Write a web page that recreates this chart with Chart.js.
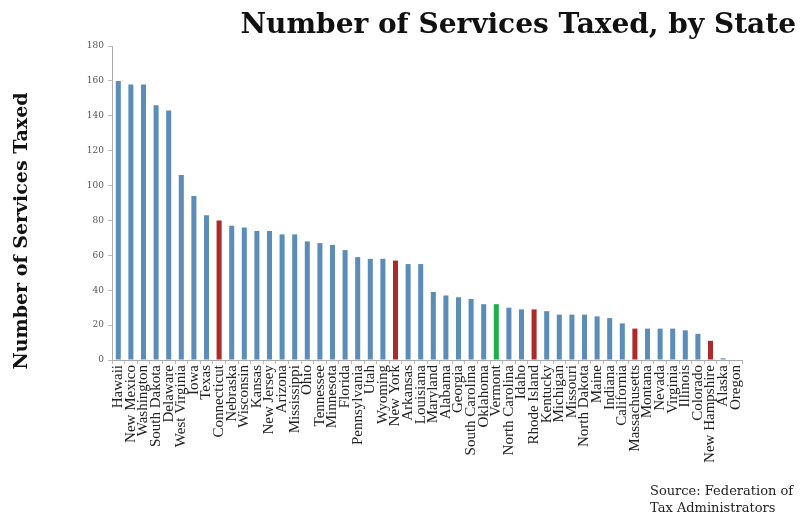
<!DOCTYPE html>
<html>
<head>
<meta charset="utf-8">
<script src="https://cdn.jsdelivr.net/npm/chart.js@4.4.3/dist/chart.umd.min.js"></script>
<style>
  html, body { margin: 0; padding: 0; background: #fff; }
  #wrap { width: 801px; height: 514px; position: relative; }
</style>
</head>
<body>
<div id="wrap"><canvas id="servicesChart"></canvas></div>
<script>
// States ordered by number of services taxed
const states = [
  'Hawaii', 'New Mexico', 'Washington', 'South Dakota', 'Delaware', 'West Virginia',
  'Iowa', 'Texas', 'Connecticut', 'Nebraska', 'Wisconsin', 'Kansas', 'New Jersey',
  'Arizona', 'Mississippi', 'Ohio', 'Tennessee', 'Minnesota', 'Florida', 'Pennsylvania',
  'Utah', 'Wyoming', 'New York', 'Arkansas', 'Louisiana', 'Maryland', 'Alabama',
  'Georgia', 'South Carolina', 'Oklahoma', 'Vermont', 'North Carolina', 'Idaho',
  'Rhode Island', 'Kentucky', 'Michigan', 'Missouri', 'North Dakota', 'Maine',
  'Indiana', 'California', 'Massachusetts', 'Montana', 'Nevada', 'Virginia',
  'Illinois', 'Colorado', 'New Hampshire', 'Alaska', 'Oregon'
];
const servicesTaxed = [
  160, 158, 158, 146, 143, 106,
  94, 83, 80, 77, 76, 74, 74,
  72, 72, 68, 67, 66, 63, 59,
  58, 58, 57, 55, 55, 39, 37,
  36, 35, 32, 32, 30, 29,
  29, 28, 26, 26, 26, 25,
  24, 21, 18, 18, 18, 18,
  17, 15, 11, 1, 0
];
// New England neighbours get red, Vermont green
const redStates = ['Connecticut', 'New York', 'Rhode Island', 'Massachusetts', 'New Hampshire'];
const greenStates = ['Vermont'];
const yTicks = [0, 20, 40, 60, 80, 100, 120, 140, 160, 180];

const BLUE = '#5b8db8';
const RED = '#ad2a2a';
const GREEN = '#1fb04c';
const barColors = states.map(s =>
  greenStates.includes(s) ? GREEN : (redStates.includes(s) ? RED : BLUE));

// titles and source note drawn straight onto the canvas
const textPlugin = {
  id: 'textPlugin',
  afterDraw(chart) {
    const ctx = chart.ctx;
    ctx.save();
    ctx.fillStyle = '#111';
    ctx.font = 'bold 28px "DejaVu Serif", serif';
    ctx.textAlign = 'right';
    ctx.textBaseline = 'alphabetic';
    ctx.fillText('Number of Services Taxed, by State', 796, 33);

    ctx.font = 'bold 19px "DejaVu Serif", serif';
    ctx.textAlign = 'center';
    ctx.textBaseline = 'middle';
    ctx.translate(22, 231);
    ctx.rotate(-Math.PI / 2);
    ctx.fillText('Number of Services Taxed', 0, 0);
    ctx.restore();

    ctx.save();
    ctx.fillStyle = '#222';
    ctx.font = '13px "DejaVu Serif", serif';
    ctx.textAlign = 'left';
    ctx.textBaseline = 'alphabetic';
    ctx.fillText('Source: Federation of', 650, 495);
    ctx.fillText('Tax Administrators', 650, 512);
    ctx.restore();
  }
};

new Chart(document.getElementById('servicesChart'), {
  type: 'bar',
  data: {
    labels: states,
    datasets: [{
      data: servicesTaxed,
      backgroundColor: barColors,
      borderWidth: 0,
      barPercentage: 0.4,
      categoryPercentage: 1.0
    }]
  },
  options: {
    responsive: true,
    maintainAspectRatio: false,
    animation: false,
    layout: { padding: { top: 46, right: 59, left: 0, bottom: 0 } },
    plugins: {
      legend: { display: false },
      tooltip: { enabled: false }
    },
    scales: {
      x: {
        grid: { display: true, drawOnChartArea: false, offset: true, tickLength: 4, color: '#bbb' },
        border: { color: '#aaa' },
        ticks: {
          autoSkip: false,
          maxRotation: 90,
          minRotation: 90,
          padding: 1,
          color: '#222',
          font: { family: '"Liberation Serif", serif', size: 15 }
        },
        afterFit(scale) { scale.height = 154; }
      },
      y: {
        min: 0,
        max: 180,
        grid: { display: true, drawOnChartArea: false, tickLength: 4, color: '#bbb' },
        border: { color: '#aaa' },
        afterBuildTicks(scale) { scale.ticks = yTicks.map(v => ({ value: v })); },
        ticks: {
          padding: 4,
          color: '#555',
          font: { family: '"DejaVu Serif", serif', size: 9 }
        },
        afterFit(scale) { scale.width = 112; }
      }
    }
  },
  plugins: [textPlugin]
});
</script>
</body>
</html>
